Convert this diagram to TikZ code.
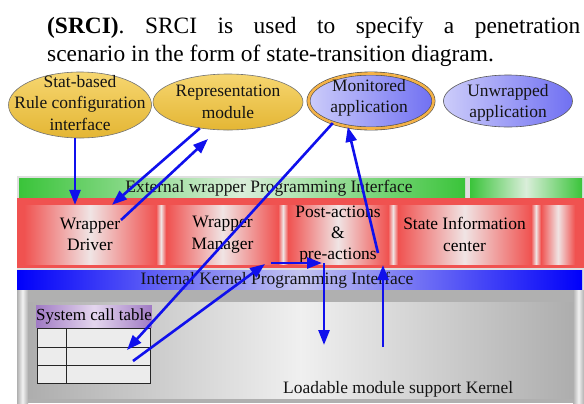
\documentclass[tikz,border=0pt]{standalone}
\usepackage{fontspec}
\setmainfont{Liberation Serif}
\usetikzlibrary{positioning,arrows.meta,shapes.geometric}

\definecolor{flowblue}{RGB}{16,16,236}
\definecolor{gold}{RGB}{228,182,52}
\definecolor{goldlight}{RGB}{246,214,112}
\definecolor{appblue}{RGB}{112,112,242}
\definecolor{applight}{RGB}{204,204,250}
\definecolor{monorange}{RGB}{244,178,72}
\definecolor{wrapred}{RGB}{240,82,80}
\definecolor{wrapwhite}{RGB}{240,228,228}
\definecolor{extgreen}{RGB}{58,196,58}
\definecolor{extlight}{RGB}{218,238,218}
\definecolor{kernblue}{RGB}{0,0,250}
\definecolor{kernlight}{RGB}{196,196,240}
\definecolor{tablepurple}{RGB}{160,122,196}
\definecolor{tablelight}{RGB}{228,214,238}

\tikzset{
  every module/.style={ellipse, draw=black!55, line width=0.6bp, inner sep=0pt},
  gold module/.style={top color=goldlight, bottom color=gold},
  app module/.style={left color=applight, right color=appblue},
  % middle color has to come last, left/right color reset it
  band/.style 2 args={left color=#1, right color=#1, middle color=#2},
  wrapbox/.style={rectangle, inner sep=0pt, minimum height=59*1bp, align=center, band={wrapred}{wrapwhite}},
  plain text/.style={align=center, inner sep=0pt, text=black!92},
  flow/.style={draw=flowblue, line width=2.6bp, -{Triangle[length=15bp,width=11bp]}}
}

\begin{document}
\begin{tikzpicture}[x=1bp, y=-1bp, font=\fontsize{17.5}{21.5}\selectfont]
\useasboundingbox (0,0) rectangle (584,403);

\node [anchor=base west, inner sep=0pt, font=\fontsize{23.5}{28}\selectfont] (head-1) at (47,33)
  {\makebox[533bp][s]{\textbf{(SRCI)}. SRCI is used to specify a penetration}};
\node [anchor=base west, inner sep=0pt, font=\fontsize{23.5}{28}\selectfont] (head-2) at (47,61)
  {scenario in the form of state-transition diagram.};

% upper modules
\node [every module, gold module, minimum width=143*1bp, minimum height=66*1bp] (stat) at (80,105) {};
\node [plain text] (stat-text) at (80,103) {Stat-based\\Rule configuration\\interface};
\node [every module, gold module, minimum width=150*1bp, minimum height=56*1bp] (repr) at (228,102) {};
\node [plain text] (repr-text) at (228,102) {Representation\\module};
\node [every module, app module, draw=black!70, double=monorange, double distance=2.6bp,
  minimum width=125*1bp, minimum height=55*1bp] (mon) at (371,101) {};
\node [plain text] (mon-text) at (369,98) {Monitored\\application};
\node [every module, app module, draw=black!65, minimum width=129*1bp, minimum height=52*1bp] (unwrap) at (508,101) {};
\node [plain text] (unwrap-text) at (508,103) {Unwrapped\\application};

% wrapper layer
\fill [gray!25] (17,176) rectangle (584,403);
\shade [band={extgreen}{extlight}] (19,178) rectangle (465,198);
\shade [band={extgreen}{extlight}] (470,178) rectangle (582,198);
\node [plain text] (ext-api) at (269,188) {External wrapper Programming Interface};

\fill [wrapred] (17,198) rectangle (584,268);
\foreach \x in {156,278,388,531}
  \shade [band={wrapred}{wrapwhite}] (\x,205) rectangle (\x+10,264);
\shade [band={wrapred}{wrapwhite}] (541,205) rectangle (575,264);

\foreach \x/\w/\t [count=\i] in {24/132/{Wrapper\\Driver}, 167/111/{Wrapper\\Manager},
    288/100/{Post-actions\\\&\\pre-actions}, 398/133/{State Information\\center}}
  \node [wrapbox, minimum width=\w*1bp] (wrap-\i) at (\x+\w/2,234.5) {\t};

\shade [band={kernblue}{kernlight}] (17,270) rectangle (582,290);
\node [plain text] (int-api) at (277,280) {Internal Kernel Programming Interface};

% kernel
\fill [gray!62] (17,290) rectangle (584,403);
\shade [band={gray!62}{gray!10}] (17,290) rectangle (28,403);
\shade [band={gray!62}{gray!10}] (573,290) rectangle (584,403);
\shade [band={gray!64}{gray!12}] (28,302) rectangle (573,398);
\node [plain text, anchor=base west] (kernel) at (283,393) {Loadable module support Kernel};

\node [inner sep=0pt, minimum width=114*1bp, minimum height=22*1bp, font=\fontsize{17}{20}\selectfont,
  band={tablepurple}{tablelight}] (sct-label) at (94,316) {System call table};
\node [draw=black!85, fill=gray!15, line width=0.8bp, minimum width=113*1bp, minimum height=55*1bp] (sct) at (93.5,355.5) {};
\foreach \y in {347,365}
  \draw [black!85, line width=0.8bp] (37,\y) -- (150,\y);
\draw [black!85, line width=0.8bp] (66,328) -- (66,383);

% flows
\coordinate (stat-out) at ([xshift=-5bp]stat.south);
\coordinate (drv-out) at (121,220);
\coordinate (repr-in) at (208,139);
\coordinate (slot-in) at (127,350);
\coordinate (slot-out) at (133,361);
\coordinate (hook-1) at (265,264);
\coordinate (hook-2) at (271,263);
\coordinate (hook-3) at (322,263);
\coordinate (hook-4) at (324,263);
\coordinate (hook-5) at (324,345);
\coordinate (ret-1) at (383,347);
\coordinate (ret-2) at (383,265);
\coordinate (ret-3) at (378,253);

\draw [flow] (stat-out) -- (stat-out |- wrap-1.north);
\draw [flow] (repr.223) -- ([xshift=22bp]wrap-1.north);
\draw [flow] (drv-out) -- (repr-in);
\draw [flow] (mon.210) -- (slot-in);
\draw [flow] (slot-out) -- (hook-1);
\draw [flow] (hook-2) -- (hook-3);
\draw [flow] (hook-4) -- (hook-5);
\draw [flow] (ret-1) -- (ret-2);
\draw [flow] (ret-3) -- (mon.228);

\end{tikzpicture}
\end{document}
